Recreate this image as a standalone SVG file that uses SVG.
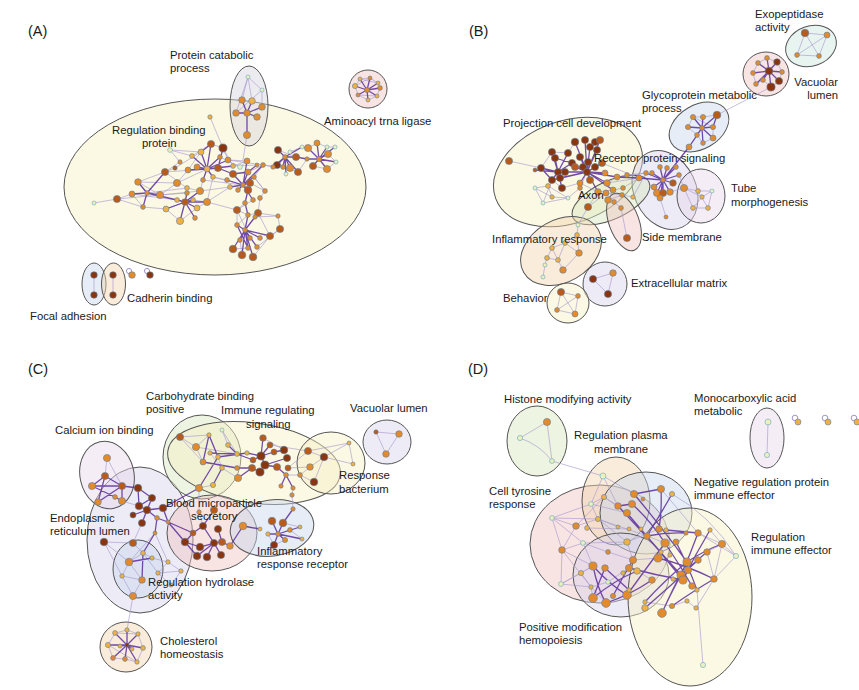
<svg xmlns="http://www.w3.org/2000/svg" width="859" height="690" viewBox="0 0 859 690">
<style>
text{font-family:"Liberation Sans",Arial,sans-serif;font-size:11.3px;fill:#1a1a1a}
.pl{font-size:14.5px}
ellipse{stroke:#555;stroke-width:1;fill-opacity:.45}
.cy{fill:#F6F0C4}.cb{fill:#C8D6EC}.cl{fill:#D6D2EA}.cp{fill:#EEC4C0}.co{fill:#F2D4B0}.cg{fill:#D8E6BC}.ct{fill:#CDE6DE}.cm{fill:#E6D8EC}.cgr{fill:#D4D4DE}
circle{stroke:#5F7F98;stroke-width:.6}
.a{fill:#8A3510}.b{fill:#BA5A1A}.c{fill:#E38A2C}.d{fill:#F0B042}.e{fill:#EEF0B8;stroke:#5FA8C8}
.ed{stroke:#5A2D9C;stroke-width:1.3;fill:none;stroke-opacity:.85}
.el{stroke:#A898D0;stroke-width:.8;fill:none;stroke-opacity:.8}
.lp{fill:none;stroke:#8878C0;stroke-width:.8}
</style>
<rect width="859" height="690" fill="#fff"/>
<g id="clusters">
<g id="A-regulation-binding-protein"><ellipse class="cy" cx="215" cy="187" rx="151" ry="88"/></g>
<g id="A-protein-catabolic-process"><ellipse class="cgr" cx="249" cy="106" rx="19" ry="40"/></g>
<g id="A-aminoacyl-trna-ligase"><ellipse class="cp" cx="368" cy="89" rx="19" ry="19"/></g>
<g id="A-focal-adhesion"><ellipse class="cb" cx="94" cy="284" rx="12" ry="21"/></g>
<g id="A-cadherin-binding"><ellipse class="co" cx="113.5" cy="284" rx="12" ry="21"/></g>
<g id="B-exopeptidase-activity"><ellipse class="ct" cx="811" cy="46" rx="26" ry="20" transform="rotate(-20 811 46)"/></g>
<g id="B-vacuolar-lumen"><ellipse class="cp" cx="766" cy="74" rx="23" ry="22"/></g>
<g id="B-glycoprotein-metabolic-process"><ellipse class="cb" cx="699" cy="127" rx="32" ry="22" transform="rotate(-30 699 127)"/></g>
<g id="B-projection-cell-development"><ellipse class="cy" cx="568" cy="172" rx="77" ry="51" transform="rotate(-20 568 172)"/></g>
<g id="B-receptor-protein-signaling"><ellipse class="cl" cx="665" cy="190" rx="31" ry="41" transform="rotate(-25 665 190)"/></g>
<g id="B-tube-morphogenesis"><ellipse class="cm" cx="701" cy="196" rx="24" ry="27"/></g>
<g id="B-axon"><ellipse class="cg" cx="611" cy="200" rx="42" ry="19" transform="rotate(-25 611 200)"/></g>
<g id="B-side-membrane"><ellipse class="cp" cx="624" cy="222" rx="15" ry="30" transform="rotate(-20 624 222)"/></g>
<g id="B-inflammatory-response"><ellipse class="co" cx="561" cy="251" rx="43" ry="31" transform="rotate(-30 561 251)"/></g>
<g id="B-extracellular-matrix"><ellipse class="cl" cx="605" cy="284" rx="22" ry="22"/></g>
<g id="B-behavior"><ellipse class="cy" cx="568" cy="303" rx="21" ry="20"/></g>
<g id="C-endoplasmic-reticulum-lumen"><ellipse class="cl" cx="140" cy="540" rx="53" ry="73"/></g>
<g id="C-calcium-ion-binding"><ellipse class="cm" cx="107" cy="475" rx="27" ry="34" transform="rotate(-12 107 475)"/></g>
<g id="C-carbohydrate-binding-positive"><ellipse class="cg" cx="202" cy="457" rx="39" ry="42"/></g>
<g id="C-immune-regulating-signaling"><ellipse class="cy" cx="254" cy="463" rx="87" ry="40" transform="rotate(8 254 463)"/></g>
<g id="C-response-bacterium"><ellipse class="cy" cx="331" cy="463" rx="34" ry="31"/></g>
<g id="C-vacuolar-lumen"><ellipse class="cl" cx="387" cy="442" rx="24" ry="22"/></g>
<g id="C-blood-microparticle-secretory"><ellipse class="cp" cx="212" cy="533" rx="45" ry="38"/></g>
<g id="C-inflammatory-response-receptor"><ellipse class="cb" cx="272" cy="528" rx="42" ry="28" transform="rotate(-8 272 528)"/></g>
<g id="C-regulation-hydrolase-activity"><ellipse class="cb" cx="138" cy="569" rx="25" ry="29"/></g>
<g id="C-cholesterol-homeostasis"><ellipse class="co" cx="126" cy="647" rx="26" ry="25"/></g>
<g id="D-histone-modifying-activity"><ellipse class="cg" cx="537" cy="441" rx="30" ry="35"/></g>
<g id="D-monocarboxylic-acid-metabolic"><ellipse class="cm" cx="767" cy="438" rx="17" ry="30"/></g>
<g id="D-cell-tyrosine-response"><ellipse class="cp" cx="600" cy="544" rx="70" ry="59"/></g>
<g id="D-regulation-plasma-membrane"><ellipse class="co" cx="616" cy="501" rx="34" ry="44"/></g>
<g id="D-negative-regulation-protein-immune-effector"><ellipse class="cb" cx="646" cy="513" rx="46" ry="41"/></g>
<g id="D-positive-modification-hemopoiesis"><ellipse class="cl" cx="621" cy="575" rx="48" ry="42"/></g>
<g id="D-regulation-immune-effector"><ellipse class="cy" cx="690" cy="597" rx="62" ry="89"/></g>
</g>
<g id="connectors">
<path class="el" d="M94 203L117 199M117 199L132 194M117 199L143 207M138 182L165 172M165 172L175 168M165 172L180 162M170 150L192 156M170 150L201 152M170 150L180 162M210 117L228 160M138 182L160 195M143 207L166 209M166 209L180 221M132 194L143 207M160 195L177 183M177 183L188 170M187 188L200 191M200 191L203 180M207 202L213 177M207 202L230 187M213 177L227 180M220 157L240 167M240 167L247 161M223 148L233 166M211 144L223 148M165 172L187 188M117 199L160 195M237 210L245 203M237 210L248 215M258 213L278 216M278 216L280 229M280 229L270 236M278 216L255 217M263 165L290 168M265 191L260 198M265 191L254 177M236 113L262 90M248 77L262 90M248 77L242 100M248 77L252 101M262 90L262 107M248 77L236 113M298 172L307 159M290 152L302 147M185 202L200 191M247 135L243 160M263 165L273 167M138 182L177 183M132 194L177 200M147 193L187 188M160 195L187 193M180 221L197 208M166 209L185 202M193 200L207 202M197 208L207 202M228 160L247 161M233 166L247 161M254 177L265 191M260 198L258 213M253 200L237 210M237 210L237 225M248 215L258 213M280 229L257 247M270 236L253 257M233 249L248 248M240 240L242 255M278 150L296 157M277 165L298 172M308 148L317 143M317 143L327 147M327 147L335 147M328 154L336 162M313 166L327 169M327 169L336 162M302 147L308 148M355 86L360 79M360 79L370 78M370 78L378 83M378 83L380 88M380 88L377 96M377 96L368 100M368 100L358 95M358 95L355 86M355 86L370 78M360 79L378 83M377 96L358 95M94 275L94 295M113 275L113 295M165 172L207 169M177 183L207 169M160 195L200 191M138 182L147 193M175 168L201 152M188 170L201 152M192 156L211 144M203 180L243 185M213 177L243 185M200 191L230 187M207 202L237 210M228 160L263 165M233 166L257 165M248 172L263 165M254 177L263 165M250 183L265 191M237 210L250 238M258 213L270 236M248 215L237 225"/>
<path class="ed" d="M207 169L201 152M207 169L192 156M207 169L211 144M207 169L220 157M207 169L228 160M207 169L218 168M207 169L188 170M207 169L213 177M207 169L203 180M207 169L233 166M207 169L197 167M243 185L233 174M243 185L248 172M243 185L254 177M243 185L250 183M243 185L238 190M243 185L248 190M243 185L230 187M243 185L247 161M243 185L227 180M243 185L253 200M243 185L263 165M233 174L218 168M233 174L248 172M248 172L257 165M223 148L218 168M211 144L201 152M147 193L138 182M147 193L132 194M147 193L160 195M147 193L143 207M147 193L165 172M147 193L177 200M185 202L177 200M185 202L187 193M185 202L193 200M185 202L197 208M185 202L180 221M185 202L195 218M185 202L166 209M185 202L207 202M185 202L200 191M248 190L245 203L248 215L245 230M245 230L237 225M245 230L250 238M245 230L260 238M245 230L240 240M245 230L233 249M245 230L242 255M245 230L253 257M245 230L248 248M245 230L257 247M245 230L270 236M237 225L248 248M255 217L245 230M285 157L278 150M285 157L277 165M285 157L283 167M285 157L290 168M285 157L298 172M285 157L296 157M285 157L286 174M285 157L302 147M285 157L273 167M319 159L308 148M319 159L317 143M319 159L327 147M319 159L328 154M319 159L313 166M319 159L327 169M319 159L336 162M319 159L335 147M319 159L307 159M296 157L307 159M247 113L242 100M247 113L252 101M247 113L262 107M247 113L236 113M247 113L257 117M247 113L247 135M367 90L355 86M367 90L360 79M367 90L370 78M367 90L378 83M367 90L380 88M367 90L377 96M367 90L368 100M367 90L358 95"/>
<path class="el" d="M509 161L541 168M535 188L548 186M535 188L543 203M548 186L568 198M543 203L568 198M552 197L568 198M548 186L552 197M568 198L580 188M535 188L552 197M580 188L587 172M543 203L552 180M607 183L639 178M602 163L639 178M617 177L646 173M627 175L646 173M623 188L639 178M588 207L606 193M606 193L622 195M622 195L633 197M606 193L614 202M614 202L621 208M621 208L627 238M598 192L588 207M608 200L622 195M633 197L646 173M588 207L578 225M578 225L577 235M577 235L565 243M577 235L579 253M565 243L552 248M565 243L579 253M552 248L547 258M552 248L558 260M558 260L563 270M579 253L563 270M547 258L545 265M545 265L543 277M565 243L558 260M547 258L558 260M593 279L613 273M613 273L608 294M593 279L608 294M561 292L578 296M561 292L557 310M561 292L575 314M578 296L557 310M578 296L575 314M557 310L575 314M684 188L698 191M684 188L693 208M698 191L712 191M698 191L708 208M712 191L708 208M693 208L708 208M702 197L712 191M702 197L693 208M684 188L702 197M679 175L684 188M670 192L684 188M660 198L666 217M805 33L827 35M805 33L797 55M805 33L819 56M827 35L819 56M797 55L819 56M827 35L797 55M758 63L767 58M767 58L777 62M777 62L782 72M782 72L779 81M779 81L771 87M771 87L763 80M763 80L756 84M756 84L753 73M753 73L758 63M771 87L717 115M693 117L703 117M703 117L717 115M688 127L693 117M688 127L697 135M697 135L703 143M703 143L713 138M713 138L713 127M689 147L697 135M693 117L713 127M613 190L623 188M607 183L617 177M617 177L627 175M598 192L613 190M608 200L613 190M580 183L598 192M541 168L552 152M552 152L568 153M568 153L575 142M562 188L580 183M552 180L562 188"/>
<path class="ed" d="M587 172L575 142M587 172L585 140M587 172L590 147M587 172L597 150M587 172L580 157M587 172L583 167M587 172L588 162M587 172L595 167M587 172L602 163M587 172L605 173M587 172L590 180M587 172L580 183M587 172L575 167M587 172L565 172M587 172L560 178M587 172L598 192M587 172L607 183M587 172L613 190M587 172L617 177M587 172L572 163M587 172L552 180M587 172L600 140M558 172L541 168M558 172L552 152M558 172L555 158M558 172L568 153M558 172L552 180M558 172L562 188M558 172L535 170M558 172L565 172M558 172L572 163M541 168L552 180M555 158L572 163M663 180L639 178M663 180L646 173M663 180L652 173M663 180L660 167M663 180L667 168M663 180L676 167M663 180L679 175M663 180L673 183M663 180L654 187M663 180L657 193M663 180L663 193M663 180L670 192M663 180L660 198M663 180L689 147M617 177L639 178M702 128L693 117M702 128L703 117M702 128L717 115M702 128L688 127M702 128L713 127M702 128L697 135M702 128L713 138M702 128L703 143M702 128L689 147M717 115L713 127M769 71L758 63M769 71L767 58M769 71L777 62M769 71L782 72M769 71L779 81M769 71L771 87M769 71L763 80M769 71L753 73M769 71L756 84"/>
<path class="el" d="M376 432L399 434M399 434L386 454M376 432L386 454M107 458L105 476M107 458L122 486M104 542L133 543M133 543L142 523M122 501L139 506M133 543L143 553M155 533L129 562M104 542L129 562M129 562L143 553M129 562L122 576M143 553L152 558M129 562L142 580M122 576L142 580M122 576L133 596M142 580L133 596M158 573L168 562M158 573L181 571M168 562L181 571M158 573L171 585M181 571L171 585M133 596L127 630M115 633L127 630M127 630L138 634M138 634L143 648M143 648L137 662M137 662L125 659M125 659L113 658M113 658L108 645M108 645L115 633M115 633L138 634M108 645L137 662M180 437L196 447M196 447L209 435M196 447L203 462M222 430L228 445M210 453L222 468M196 447L237 454M222 468L238 478M263 438L284 450M288 468L308 451M308 451L324 457M310 467L324 457M314 482L324 457M300 475L310 467M349 443L353 464M324 457L349 443M324 457L353 464M308 451L349 443M288 468L310 467M270 445L308 451M293 488L292 495M292 495L293 509M199 512L203 526M283 523L300 527M274 545L285 540M152 558L168 562M143 553L158 573M199 488L213 485M180 437L209 435M180 437L203 462M222 430L237 454M218 457L222 468M286 475L300 475M314 482L300 475M155 533L168 562M104 542L122 576M199 488L199 512M243 526L260 529M290 530L302 539M268 534L274 545"/>
<path class="ed" d="M105 476L92 486M105 476L122 486M105 476L98 502M92 486L122 486M98 502L122 486M115 497L122 501M122 486L138 488M122 486L122 501M92 486L115 497M138 488L152 498M139 506L152 498M147 510L163 508M139 506L147 510M142 523L147 510M133 515L147 510M147 510L157 518M157 518L168 522M168 522L185 542M163 508L168 522M155 533L157 518M152 498L147 510M138 488L139 506M163 508L199 488M143 553L142 580M152 558L129 562M143 553L155 533M127 645L115 633M127 645L127 630M127 645L138 634M127 645L143 648M127 645L137 662M127 645L125 659M127 645L113 658M127 645L108 645M127 645L120 646M127 645L132 649M209 435L203 462M209 435L218 457M203 462L237 468M218 457L247 453M199 488L218 457M213 485L222 468M228 445L237 454M237 454L253 460M253 460L261 456M261 456L263 438M261 456L270 445M261 456L274 452M261 456L265 465M265 465L260 472M260 472L252 468M265 465L277 467M265 465L287 458M284 450L274 452M277 467L286 475M286 475L281 486M286 475L293 488M237 468L252 468M238 478L252 468M247 453L261 456M210 453L237 454M214 543L200 547M214 543L197 556M214 543L207 557M214 543L222 542M214 543L221 555M214 543L203 526M203 526L214 510M185 542L200 547M193 533L185 542M230 546L243 526M222 542L230 546M218 529L222 542M168 522L193 533M193 533L203 526M185 542L197 556M278 534L272 521M278 534L283 523M278 534L268 534M278 534L290 530M278 534L300 527M278 534L302 539M278 534L274 545M278 534L285 540M260 529L243 526M293 509L283 523"/>
<path class="el" d="M547 422L520 438M520 438Q540 445 552 461M547 422L552 461M552 461L603 476M768 422L767 455M552 518L576 526M552 518L591 504M576 526L598 519M576 526L562 550M562 550L583 543M562 550L561 584M561 584L593 566M583 543L627 542M591 504L604 497M604 497L618 506M603 476L618 506M603 476L634 494M591 504L627 513M598 519L618 527M587 528L629 529M598 519L647 536M627 542L659 529M736 556L722 544M736 556L698 533M722 544L710 530M703 665L697 590M696 608L714 579M581 573L593 566M591 587L606 603M608 582L629 568M552 518L562 550M561 584L581 573M672 494Q710 515 736 556M661 489L698 533M604 497L576 526M583 543L608 552M608 552L633 560M633 560L658 558M637 571L652 580M623 573L629 568M645 602L672 606M687 601L696 608M672 606L687 601M714 579L722 544M707 552L722 544M603 476L591 504M562 550L591 587M591 587L593 598M552 518L583 543M591 504L598 519M604 497L627 513M598 519L627 542M562 550L593 566M583 543L593 566M552 518L598 519M581 573L591 587M561 584L591 587M591 587L608 582M627 542L633 560M647 536L665 543M698 533L722 544M714 579L736 556M707 552L714 579"/>
<path class="ed" d="M632 504Q650 520 665 543M634 494Q660 525 687 562M618 506Q650 540 681 575M661 489Q662 510 659 529M672 494Q660 515 647 536M627 513Q655 545 683 580M593 566Q610 585 627 595M593 566Q598 590 606 603M605 568Q598 585 593 598M605 568L629 590M593 598Q615 580 637 571M652 580Q630 595 606 603M629 568Q655 575 683 580M658 558Q686 565 714 579M665 543Q680 565 692 586M687 562Q705 550 722 544M698 533Q690 555 681 575M710 530Q695 555 683 580M676 542Q688 565 697 590M681 575Q695 562 707 552M687 562Q672 590 662 613M672 606Q695 590 714 579M645 602Q665 580 687 562M662 613Q670 595 681 575M645 608Q672 585 698 560M627 595Q645 570 665 543M613 596Q622 578 633 560M647 536Q667 532 686 533M666 530L698 533M634 494L661 489M618 506L632 504"/>
<circle class="lp" cx="129" cy="271" r="2.6"/><circle class="lp" cx="147" cy="271" r="2.6"/>
<circle class="lp" cx="795" cy="418" r="2.8"/><circle class="lp" cx="825" cy="418" r="2.8"/><circle class="lp" cx="854" cy="418" r="2.8"/>
</g>
<g id="nodes">
<g id="A-nodes">
<circle class="e" cx="248" cy="77" r="2"/><circle class="e" cx="262" cy="90" r="2"/><circle class="c" cx="242" cy="100" r="3.3"/><circle class="d" cx="252" cy="101" r="3.3"/><circle class="c" cx="262" cy="107" r="3.3"/><circle class="c" cx="236" cy="113" r="3.3"/><circle class="c" cx="247" cy="113" r="3.3"/><circle class="c" cx="257" cy="117" r="3.3"/><circle class="c" cx="247" cy="135" r="3.6"/>
<circle class="c" cx="367" cy="90" r="2.6"/><circle class="d" cx="355" cy="86" r="2.6"/><circle class="d" cx="360" cy="79" r="2"/><circle class="c" cx="370" cy="78" r="2"/><circle class="d" cx="378" cy="83" r="2"/><circle class="c" cx="380" cy="88" r="2.4"/><circle class="d" cx="377" cy="96" r="2"/><circle class="d" cx="368" cy="100" r="2"/><circle class="c" cx="358" cy="95" r="2"/>
<circle class="d" cx="210" cy="117" r="2.2"/><circle class="e" cx="170" cy="150" r="2.4"/><circle class="b" cx="211" cy="144" r="3.6"/><circle class="a" cx="223" cy="148" r="4.1"/><circle class="d" cx="201" cy="152" r="3"/><circle class="d" cx="192" cy="156" r="2.4"/><circle class="c" cx="180" cy="162" r="2.2"/><circle class="c" cx="220" cy="157" r="2.4"/><circle class="c" cx="228" cy="160" r="3"/><circle class="d" cx="207" cy="169" r="3"/><circle class="c" cx="197" cy="167" r="3"/><circle class="c" cx="188" cy="170" r="3"/><circle class="b" cx="165" cy="172" r="3.6"/><circle class="b" cx="175" cy="168" r="2.2"/><circle class="b" cx="218" cy="168" r="3.6"/><circle class="d" cx="233" cy="166" r="2.4"/><circle class="b" cx="233" cy="174" r="3.6"/><circle class="e" cx="240" cy="167" r="2.4"/><circle class="c" cx="247" cy="161" r="3"/><circle class="c" cx="248" cy="172" r="3"/><circle class="c" cx="257" cy="165" r="2"/><circle class="c" cx="263" cy="165" r="2.4"/><circle class="c" cx="254" cy="177" r="2.4"/><circle class="b" cx="250" cy="183" r="3.6"/><circle class="c" cx="243" cy="185" r="2.4"/><circle class="b" cx="248" cy="190" r="3.8"/><circle class="c" cx="238" cy="190" r="2.4"/><circle class="d" cx="230" cy="187" r="2.4"/><circle class="c" cx="227" cy="180" r="2.4"/><circle class="d" cx="213" cy="177" r="2.4"/><circle class="c" cx="203" cy="180" r="2.4"/><circle class="c" cx="200" cy="191" r="3.6"/><circle class="d" cx="187" cy="188" r="2.4"/><circle class="c" cx="177" cy="183" r="3.6"/><circle class="c" cx="138" cy="182" r="3.3"/><circle class="c" cx="132" cy="194" r="3"/><circle class="c" cx="147" cy="193" r="2.4"/><circle class="c" cx="160" cy="195" r="3.6"/><circle class="d" cx="177" cy="200" r="2.4"/><circle class="c" cx="187" cy="193" r="2.4"/><circle class="b" cx="185" cy="202" r="3.3"/><circle class="d" cx="193" cy="200" r="2.4"/><circle class="c" cx="207" cy="202" r="3.6"/><circle class="d" cx="197" cy="208" r="3"/><circle class="d" cx="180" cy="221" r="3.6"/><circle class="c" cx="195" cy="218" r="2.4"/><circle class="d" cx="166" cy="209" r="3"/><circle class="c" cx="143" cy="207" r="2.4"/><circle class="b" cx="117" cy="199" r="3.6"/><circle class="e" cx="94" cy="203" r="2"/>
<circle class="b" cx="237" cy="210" r="3.6"/><circle class="c" cx="245" cy="203" r="2.4"/><circle class="c" cx="253" cy="200" r="2.4"/><circle class="c" cx="260" cy="198" r="2.4"/><circle class="c" cx="265" cy="191" r="2.4"/><circle class="b" cx="258" cy="213" r="3.6"/><circle class="c" cx="255" cy="217" r="2.2"/><circle class="c" cx="248" cy="215" r="2.4"/><circle class="c" cx="278" cy="216" r="2.2"/><circle class="b" cx="280" cy="229" r="3.6"/><circle class="b" cx="270" cy="236" r="3.6"/><circle class="c" cx="260" cy="238" r="2.4"/><circle class="c" cx="250" cy="238" r="2.4"/><circle class="c" cx="245" cy="230" r="2.4"/><circle class="c" cx="237" cy="225" r="2.4"/><circle class="c" cx="240" cy="240" r="2.4"/><circle class="b" cx="233" cy="249" r="3.8"/><circle class="b" cx="242" cy="255" r="3.8"/><circle class="b" cx="253" cy="257" r="3.8"/><circle class="c" cx="248" cy="248" r="2.4"/><circle class="c" cx="257" cy="247" r="2.4"/>
<circle class="a" cx="278" cy="150" r="3.6"/><circle class="c" cx="285" cy="157" r="2.4"/><circle class="a" cx="277" cy="165" r="3.6"/><circle class="c" cx="283" cy="167" r="2.4"/><circle class="c" cx="290" cy="168" r="3.6"/><circle class="b" cx="298" cy="172" r="3.6"/><circle class="b" cx="296" cy="157" r="3.6"/><circle class="e" cx="286" cy="174" r="2"/><circle class="e" cx="302" cy="147" r="2"/><circle class="c" cx="308" cy="148" r="3.6"/><circle class="c" cx="317" cy="143" r="3"/><circle class="e" cx="327" cy="147" r="2"/><circle class="e" cx="335" cy="147" r="2"/><circle class="c" cx="328" cy="154" r="3.6"/><circle class="c" cx="319" cy="159" r="2.6"/><circle class="b" cx="313" cy="166" r="3.6"/><circle class="c" cx="327" cy="169" r="3.6"/><circle class="e" cx="336" cy="162" r="2"/><circle class="c" cx="307" cy="159" r="2.2"/><circle class="e" cx="290" cy="152" r="2"/><circle class="c" cx="273" cy="167" r="2.2"/>
<circle class="a" cx="94" cy="275" r="3.3"/><circle class="a" cx="94" cy="295" r="3.3"/><circle class="a" cx="113" cy="275" r="3.3"/><circle class="a" cx="113" cy="295" r="3.3"/><circle class="c" cx="132" cy="275" r="3.3"/><circle class="a" cx="150" cy="275" r="3.3"/>
</g>
<g id="B-nodes">
<circle class="b" cx="805" cy="33" r="3.8"/><circle class="c" cx="827" cy="35" r="3"/><circle class="c" cx="797" cy="55" r="2.4"/><circle class="c" cx="819" cy="56" r="2.4"/>
<circle class="a" cx="769" cy="71" r="3.8"/><circle class="c" cx="758" cy="63" r="2.4"/><circle class="c" cx="767" cy="58" r="2.4"/><circle class="a" cx="777" cy="62" r="3.3"/><circle class="c" cx="782" cy="72" r="2.4"/><circle class="a" cx="779" cy="81" r="3.6"/><circle class="a" cx="771" cy="87" r="4.1"/><circle class="c" cx="763" cy="80" r="2.4"/><circle class="c" cx="753" cy="73" r="2.4"/><circle class="c" cx="756" cy="84" r="2.4"/>
<circle class="c" cx="693" cy="117" r="2.6"/><circle class="c" cx="703" cy="117" r="2.6"/><circle class="b" cx="717" cy="115" r="3.8"/><circle class="c" cx="688" cy="127" r="2.6"/><circle class="c" cx="702" cy="128" r="2.4"/><circle class="c" cx="713" cy="127" r="2.6"/><circle class="c" cx="697" cy="135" r="2.4"/><circle class="c" cx="713" cy="138" r="3"/><circle class="c" cx="703" cy="143" r="2.4"/><circle class="c" cx="689" cy="147" r="3"/>
<circle class="b" cx="509" cy="161" r="3.6"/><circle class="b" cx="535" cy="170" r="2"/><circle class="a" cx="541" cy="168" r="3.6"/><circle class="a" cx="552" cy="152" r="3.6"/><circle class="a" cx="555" cy="158" r="3.6"/><circle class="a" cx="558" cy="172" r="3.6"/><circle class="a" cx="568" cy="153" r="3.6"/><circle class="a" cx="575" cy="142" r="3.8"/><circle class="a" cx="585" cy="140" r="3.6"/><circle class="a" cx="595" cy="142" r="3.6"/><circle class="b" cx="600" cy="140" r="3.6"/><circle class="a" cx="590" cy="147" r="3.6"/><circle class="a" cx="597" cy="150" r="3.6"/><circle class="a" cx="580" cy="157" r="3.6"/><circle class="a" cx="572" cy="163" r="3.6"/><circle class="a" cx="565" cy="172" r="3.6"/><circle class="a" cx="560" cy="178" r="3.6"/><circle class="a" cx="552" cy="180" r="3.6"/><circle class="a" cx="562" cy="188" r="3.6"/><circle class="b" cx="575" cy="167" r="3.6"/><circle class="a" cx="583" cy="167" r="3.6"/><circle class="a" cx="588" cy="162" r="3.6"/><circle class="a" cx="595" cy="167" r="3.6"/><circle class="b" cx="602" cy="163" r="3.6"/><circle class="c" cx="605" cy="173" r="3"/><circle class="b" cx="590" cy="180" r="3.6"/><circle class="c" cx="580" cy="183" r="3"/><circle class="a" cx="587" cy="172" r="3.6"/><circle class="e" cx="535" cy="188" r="2"/><circle class="d" cx="548" cy="186" r="2.4"/><circle class="e" cx="543" cy="203" r="2"/><circle class="e" cx="568" cy="198" r="2"/><circle class="d" cx="552" cy="197" r="2.2"/><circle class="c" cx="580" cy="188" r="2.4"/>
<circle class="c" cx="607" cy="183" r="3.3"/><circle class="c" cx="613" cy="190" r="3"/><circle class="c" cx="617" cy="177" r="3"/><circle class="c" cx="627" cy="175" r="2.4"/><circle class="c" cx="623" cy="188" r="2.4"/><circle class="c" cx="598" cy="192" r="3.3"/><circle class="c" cx="608" cy="200" r="3.3"/><circle class="b" cx="588" cy="207" r="3.6"/><circle class="c" cx="606" cy="193" r="3"/><circle class="c" cx="622" cy="195" r="2.4"/><circle class="d" cx="633" cy="197" r="2.2"/><circle class="c" cx="614" cy="202" r="2.4"/>
<circle class="c" cx="639" cy="178" r="3"/><circle class="c" cx="646" cy="173" r="2.4"/><circle class="c" cx="652" cy="173" r="2.4"/><circle class="c" cx="660" cy="167" r="2.4"/><circle class="c" cx="667" cy="168" r="2.4"/><circle class="c" cx="676" cy="167" r="2.4"/><circle class="c" cx="679" cy="175" r="2.4"/><circle class="b" cx="673" cy="183" r="3.3"/><circle class="c" cx="663" cy="180" r="2.4"/><circle class="c" cx="654" cy="187" r="3"/><circle class="c" cx="657" cy="193" r="3.6"/><circle class="b" cx="663" cy="193" r="3.6"/><circle class="c" cx="670" cy="192" r="3.3"/><circle class="c" cx="660" cy="198" r="3"/><circle class="c" cx="666" cy="217" r="2"/>
<circle class="c" cx="684" cy="188" r="3.6"/><circle class="d" cx="698" cy="191" r="2.4"/><circle class="e" cx="712" cy="191" r="2"/><circle class="d" cx="693" cy="208" r="2.4"/><circle class="d" cx="708" cy="208" r="2.4"/><circle class="d" cx="702" cy="197" r="2.2"/>
<circle class="c" cx="621" cy="208" r="2.4"/><circle class="b" cx="627" cy="238" r="3.6"/>
<circle class="e" cx="578" cy="225" r="2"/><circle class="d" cx="577" cy="235" r="2.4"/><circle class="d" cx="565" cy="243" r="2.4"/><circle class="c" cx="579" cy="253" r="3.3"/><circle class="d" cx="552" cy="248" r="2.4"/><circle class="d" cx="547" cy="258" r="2.4"/><circle class="d" cx="558" cy="260" r="2.4"/><circle class="c" cx="563" cy="270" r="3.3"/><circle class="e" cx="545" cy="265" r="2"/><circle class="e" cx="543" cy="277" r="2"/>
<circle class="a" cx="593" cy="279" r="3.6"/><circle class="c" cx="613" cy="273" r="3.3"/><circle class="a" cx="608" cy="294" r="3.6"/>
<circle class="b" cx="561" cy="292" r="3.6"/><circle class="c" cx="578" cy="296" r="2.4"/><circle class="c" cx="557" cy="310" r="2.4"/><circle class="c" cx="575" cy="314" r="3"/>
</g>
<g id="C-nodes">
<circle class="b" cx="376" cy="432" r="2.2"/><circle class="c" cx="399" cy="434" r="3.3"/><circle class="c" cx="386" cy="454" r="3.3"/>
<circle class="c" cx="107" cy="458" r="3.6"/><circle class="b" cx="105" cy="476" r="3.6"/><circle class="c" cx="92" cy="486" r="3.6"/><circle class="c" cx="98" cy="502" r="3.3"/><circle class="b" cx="122" cy="486" r="3.6"/><circle class="c" cx="115" cy="497" r="2.4"/><circle class="c" cx="122" cy="501" r="3.6"/>
<circle class="a" cx="138" cy="488" r="3.8"/><circle class="a" cx="152" cy="498" r="3.6"/><circle class="a" cx="139" cy="506" r="3.8"/><circle class="a" cx="147" cy="510" r="3.8"/><circle class="a" cx="163" cy="508" r="3.8"/><circle class="a" cx="133" cy="515" r="3"/><circle class="a" cx="142" cy="523" r="3.6"/><circle class="c" cx="157" cy="518" r="2.4"/><circle class="c" cx="155" cy="533" r="2"/><circle class="a" cx="104" cy="542" r="3.8"/><circle class="b" cx="133" cy="543" r="3.6"/><circle class="c" cx="168" cy="522" r="2"/>
<circle class="c" cx="129" cy="562" r="3.8"/><circle class="d" cx="143" cy="553" r="2.4"/><circle class="d" cx="152" cy="558" r="2.2"/><circle class="d" cx="122" cy="576" r="2.2"/><circle class="c" cx="142" cy="580" r="3.3"/><circle class="c" cx="133" cy="596" r="3.6"/><circle class="d" cx="158" cy="573" r="2.2"/><circle class="d" cx="168" cy="562" r="2.2"/><circle class="d" cx="181" cy="571" r="2.2"/><circle class="d" cx="171" cy="585" r="2"/>
<circle class="a" cx="127" cy="645" r="2"/><circle class="d" cx="115" cy="633" r="2.4"/><circle class="d" cx="127" cy="630" r="2.2"/><circle class="d" cx="138" cy="634" r="2.2"/><circle class="d" cx="143" cy="648" r="2.4"/><circle class="d" cx="137" cy="662" r="2.2"/><circle class="c" cx="125" cy="659" r="2.4"/><circle class="c" cx="113" cy="658" r="2.4"/><circle class="d" cx="108" cy="645" r="2.6"/><circle class="d" cx="120" cy="646" r="2"/><circle class="d" cx="132" cy="649" r="2"/>
<circle class="b" cx="180" cy="437" r="3.6"/><circle class="c" cx="196" cy="447" r="3.6"/><circle class="d" cx="209" cy="435" r="2.2"/><circle class="e" cx="222" cy="430" r="2"/><circle class="c" cx="203" cy="462" r="3"/><circle class="d" cx="210" cy="453" r="2.2"/><circle class="c" cx="199" cy="488" r="3.6"/><circle class="d" cx="213" cy="485" r="2.6"/><circle class="d" cx="218" cy="457" r="2.4"/><circle class="d" cx="222" cy="468" r="2.4"/>
<circle class="d" cx="228" cy="445" r="2.4"/><circle class="d" cx="237" cy="454" r="2.4"/><circle class="c" cx="237" cy="468" r="2.4"/><circle class="c" cx="238" cy="478" r="3.6"/><circle class="d" cx="247" cy="453" r="2.2"/><circle class="b" cx="253" cy="460" r="3"/><circle class="b" cx="263" cy="438" r="3.3"/><circle class="b" cx="270" cy="445" r="3"/><circle class="a" cx="261" cy="456" r="4.1"/><circle class="a" cx="265" cy="465" r="4.1"/><circle class="a" cx="260" cy="472" r="4.1"/><circle class="b" cx="252" cy="468" r="3.6"/><circle class="b" cx="274" cy="452" r="3"/><circle class="a" cx="284" cy="450" r="3.8"/><circle class="a" cx="287" cy="458" r="3.6"/><circle class="b" cx="277" cy="467" r="3.6"/><circle class="b" cx="288" cy="468" r="3"/><circle class="c" cx="281" cy="486" r="2.2"/><circle class="c" cx="293" cy="488" r="2.2"/><circle class="c" cx="286" cy="475" r="2.4"/>
<circle class="b" cx="308" cy="451" r="3.6"/><circle class="a" cx="324" cy="457" r="3.8"/><circle class="c" cx="310" cy="467" r="3.3"/><circle class="a" cx="314" cy="482" r="3.8"/><circle class="d" cx="349" cy="443" r="2"/><circle class="d" cx="353" cy="464" r="2"/><circle class="c" cx="300" cy="475" r="2.4"/>
<circle class="c" cx="199" cy="512" r="2.2"/><circle class="b" cx="214" cy="510" r="3.6"/><circle class="a" cx="203" cy="526" r="3.6"/><circle class="b" cx="193" cy="533" r="3"/><circle class="a" cx="185" cy="542" r="3.8"/><circle class="a" cx="200" cy="547" r="3.8"/><circle class="a" cx="197" cy="556" r="3.8"/><circle class="a" cx="207" cy="557" r="3.8"/><circle class="a" cx="218" cy="529" r="3.6"/><circle class="b" cx="222" cy="542" r="3.6"/><circle class="c" cx="230" cy="546" r="3.3"/><circle class="a" cx="221" cy="555" r="3.6"/><circle class="a" cx="214" cy="543" r="3.6"/><circle class="c" cx="243" cy="526" r="3.8"/>
<circle class="b" cx="272" cy="521" r="3.8"/><circle class="b" cx="283" cy="523" r="3.8"/><circle class="d" cx="260" cy="529" r="2"/><circle class="d" cx="268" cy="534" r="2.2"/><circle class="c" cx="278" cy="534" r="2.4"/><circle class="c" cx="290" cy="530" r="2.4"/><circle class="d" cx="300" cy="527" r="2"/><circle class="d" cx="302" cy="539" r="2"/><circle class="a" cx="274" cy="545" r="3.6"/><circle class="c" cx="285" cy="540" r="2.6"/><circle class="c" cx="293" cy="509" r="2.2"/><circle class="c" cx="292" cy="495" r="2.2"/>
</g>
<g id="D-nodes">
<circle class="c" cx="547" cy="422" r="3.6"/><circle class="e" cx="520" cy="438" r="2.6"/><circle class="e" cx="552" cy="461" r="2.4"/>
<circle class="e" cx="768" cy="422" r="3"/><circle class="e" cx="767" cy="455" r="2.6"/>
<circle class="d" cx="798" cy="422" r="3"/><circle class="d" cx="828" cy="422" r="3"/><circle class="d" cx="857" cy="422" r="3"/>
<circle class="e" cx="603" cy="476" r="3"/><circle class="e" cx="591" cy="504" r="2.4"/><circle class="d" cx="604" cy="497" r="2.6"/><circle class="c" cx="618" cy="506" r="3.3"/><circle class="c" cx="632" cy="504" r="3.6"/><circle class="c" cx="627" cy="513" r="3.6"/><circle class="c" cx="634" cy="494" r="3.6"/><circle class="c" cx="643" cy="499" r="2"/><circle class="c" cx="661" cy="489" r="3.6"/><circle class="d" cx="672" cy="494" r="2.6"/><circle class="d" cx="598" cy="519" r="2.6"/><circle class="e" cx="552" cy="518" r="2.4"/><circle class="c" cx="576" cy="526" r="3.3"/><circle class="d" cx="587" cy="528" r="2.4"/><circle class="e" cx="583" cy="543" r="2.4"/><circle class="c" cx="562" cy="550" r="3.3"/><circle class="d" cx="618" cy="527" r="2"/><circle class="d" cx="629" cy="529" r="2"/><circle class="d" cx="641" cy="529" r="2"/><circle class="c" cx="647" cy="536" r="3.3"/><circle class="c" cx="659" cy="529" r="3.3"/><circle class="d" cx="666" cy="530" r="2.2"/><circle class="d" cx="627" cy="542" r="3.3"/><circle class="d" cx="661" cy="552" r="2.2"/><circle class="c" cx="665" cy="543" r="4.1"/><circle class="c" cx="676" cy="542" r="3"/><circle class="c" cx="686" cy="533" r="2.2"/><circle class="c" cx="698" cy="533" r="3.3"/><circle class="d" cx="710" cy="530" r="2.2"/><circle class="c" cx="722" cy="544" r="3.6"/><circle class="e" cx="736" cy="556" r="2.6"/><circle class="c" cx="707" cy="552" r="3.3"/><circle class="c" cx="698" cy="560" r="3.3"/><circle class="c" cx="687" cy="562" r="4.1"/><circle class="c" cx="688" cy="570" r="3.6"/><circle class="c" cx="681" cy="575" r="4.1"/><circle class="c" cx="683" cy="580" r="4.1"/><circle class="d" cx="673" cy="579" r="2.2"/><circle class="c" cx="714" cy="579" r="3.3"/><circle class="c" cx="692" cy="586" r="3.3"/><circle class="d" cx="697" cy="590" r="2.2"/><circle class="d" cx="670" cy="555" r="2.2"/><circle class="c" cx="658" cy="558" r="4.1"/><circle class="c" cx="633" cy="560" r="3.6"/><circle class="c" cx="608" cy="552" r="2.4"/><circle class="c" cx="629" cy="568" r="3.6"/><circle class="d" cx="637" cy="571" r="3.3"/><circle class="d" cx="623" cy="573" r="2.2"/><circle class="c" cx="593" cy="566" r="4.1"/><circle class="c" cx="605" cy="568" r="3.3"/><circle class="d" cx="581" cy="573" r="2.6"/><circle class="c" cx="652" cy="580" r="3.3"/><circle class="d" cx="591" cy="587" r="2.2"/><circle class="e" cx="608" cy="582" r="2.2"/><circle class="c" cx="593" cy="598" r="4.4"/><circle class="c" cx="606" cy="603" r="4.4"/><circle class="c" cx="613" cy="596" r="2.6"/><circle class="c" cx="627" cy="595" r="4.4"/><circle class="d" cx="629" cy="590" r="2.2"/><circle class="e" cx="561" cy="584" r="2.4"/><circle class="d" cx="645" cy="602" r="2.2"/><circle class="d" cx="645" cy="608" r="3.3"/><circle class="c" cx="672" cy="606" r="2.6"/><circle class="d" cx="687" cy="601" r="2.2"/><circle class="d" cx="696" cy="608" r="2.2"/><circle class="c" cx="662" cy="613" r="4.4"/><circle class="e" cx="703" cy="665" r="2.6"/>
</g>
</g>
<g id="labels">
<text class="pl" x="28" y="36">(A)</text>
<text x="170" y="59">Protein catabolic</text><text x="170" y="72">process</text>
<text x="324" y="125">Aminoacyl trna ligase</text>
<text x="112" y="134">Regulation binding</text><text x="142" y="147">protein</text>
<text x="127" y="302">Cadherin binding</text>
<text x="30" y="320">Focal adhesion</text>
<text class="pl" x="469" y="36">(B)</text>
<text x="755" y="18">Exopeptidase</text><text x="755" y="31">activity</text>
<text x="838" y="86" text-anchor="end">Vacuolar</text><text x="838" y="99" text-anchor="end">lumen</text>
<text x="642" y="99">Glycoprotein metabolic</text><text x="642" y="112">process</text>
<text x="503" y="127">Projection cell development</text>
<text x="594" y="162">Receptor protein signaling</text>
<text x="731" y="192">Tube</text><text x="731" y="206">morphogenesis</text>
<text x="578" y="199">Axon</text>
<text x="642" y="241">Side membrane</text>
<text x="492" y="243">Inflammatory response</text>
<text x="631" y="287">Extracellular matrix</text>
<text x="503" y="302">Behavior</text>
<text class="pl" x="28" y="374">(C)</text>
<text x="146" y="400">Carbohydrate binding</text><text x="146" y="413">positive</text>
<text x="221" y="414">Immune regulating</text><text x="246" y="428">signaling</text>
<text x="350" y="412">Vacuolar lumen</text>
<text x="55" y="434">Calcium ion binding</text>
<text x="339" y="479">Response</text><text x="339" y="493">bacterium</text>
<text x="50" y="522">Endoplasmic</text><text x="50" y="535">reticulum lumen</text>
<text x="166" y="507">Blood microparticle</text><text x="191" y="520">secretory</text>
<text x="257" y="555">Inflammatory</text><text x="257" y="568">response receptor</text>
<text x="148" y="586">Regulation hydrolase</text><text x="148" y="599">activity</text>
<text x="160" y="645">Cholesterol</text><text x="160" y="658">homeostasis</text>
<text class="pl" x="468" y="374">(D)</text>
<text x="504" y="403">Histone modifying activity</text>
<text x="694" y="402">Monocarboxylic acid</text><text x="694" y="415">metabolic</text>
<text x="574" y="439">Regulation plasma</text><text x="594" y="453">membrane</text>
<text x="694" y="486">Negative regulation protein</text><text x="694" y="499">immune effector</text>
<text x="489" y="495">Cell tyrosine</text><text x="489" y="508">response</text>
<text x="519" y="631">Positive modification</text><text x="519" y="644">hemopoiesis</text>
<text x="751" y="541">Regulation</text><text x="751" y="554">immune effector</text>
</g>
</svg>
